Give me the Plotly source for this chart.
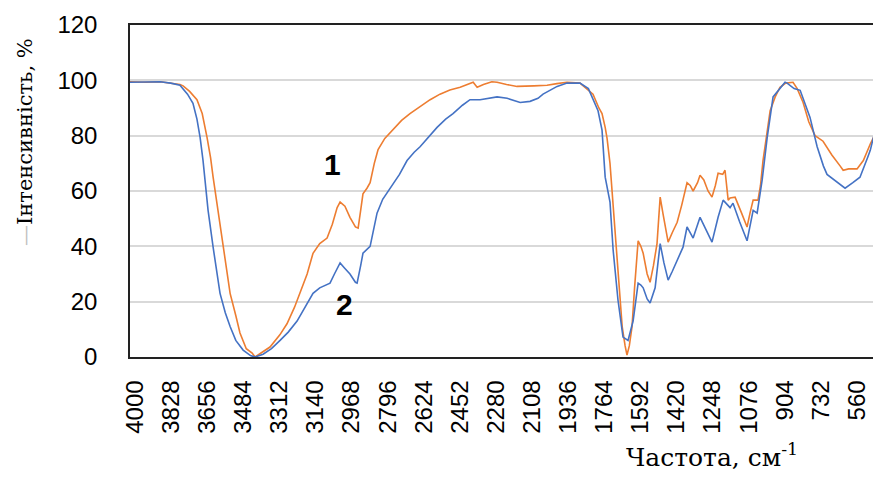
import plotly.graph_objects as go

# Series 1 (orange)
wn1 = [4024, 3950, 3880, 3830, 3786, 3771, 3740, 3705, 3680, 3657, 3640, 3628, 3610, 3595, 3570,
       3547, 3520, 3500, 3470, 3442, 3428, 3400, 3357, 3310, 3276, 3240, 3214, 3180, 3152, 3120,
       3085, 3060, 3037, 3023, 3000, 2976, 2950, 2937, 2925, 2914, 2895, 2880, 2860, 2842, 2810,
       2771, 2730, 2690, 2640, 2594, 2547, 2500, 2451, 2404, 2389, 2370, 2340, 2300, 2275, 2230,
       2180, 2100, 2037, 1990, 1942, 1880, 1818, 1790, 1775, 1760, 1751, 1737, 1727, 1710, 1703,
       1690, 1679, 1665, 1656, 1645, 1632, 1620, 1603, 1590, 1579, 1560, 1546, 1530, 1513, 1505,
       1498, 1485, 1460, 1440, 1417, 1395, 1370, 1355, 1341, 1320, 1308, 1290, 1270, 1251, 1235,
       1222, 1200, 1189, 1174, 1165, 1141, 1110, 1084, 1070, 1055, 1032, 1020, 1008, 990, 974,
       950, 927, 900, 865, 845, 817, 790, 760, 722, 680, 640, 626, 600, 560, 530, 497, 470, 446]
val1 = [99.5, 99.3, 99.5, 99, 98.5, 98, 96, 93, 88, 79.4, 72, 65, 56, 47, 35,
        23, 15, 8.7, 3, 1.4, 0, 1.5, 3.6, 8, 12, 18, 23, 30, 37.5, 41,
        43, 48, 54, 56, 54.5, 50.5, 47, 46.6, 53, 59, 61, 63, 70, 75, 79,
        82, 85.5, 88, 90.5, 93, 95, 96.5, 97.5, 99, 99.3, 97.5, 98.5, 99.5, 99.3, 98.5,
        97.8, 98, 98.2, 98.8, 99.3, 99, 95, 90, 88, 83, 79, 70, 60, 45, 35,
        22, 11, 4, 0.7, 4, 11, 25, 42, 40, 37.5, 30, 27, 33, 41, 50,
        57.8, 52, 41.5, 45, 48.7, 55, 63, 62, 60, 63, 65.7, 64, 60, 57.8, 62,
        66.4, 66, 67.5, 56.7, 57.5, 57.8, 52, 47, 52, 56.7, 56.7, 62, 71, 80, 89,
        94, 97.5, 99, 99.3, 97, 92, 85, 80, 78, 73, 69, 67.5, 68, 68, 71, 77, 81, 86]

# Series 2 (blue)
wn2 = [4024, 3950, 3880, 3830, 3800, 3786, 3750, 3724, 3705, 3690, 3676, 3665, 3652, 3628, 3610,
       3595, 3570, 3547, 3520, 3485, 3450, 3428, 3390, 3350, 3309, 3270, 3228, 3190, 3152, 3120,
       3104, 3071, 3050, 3023, 3000, 2976, 2950, 2942, 2925, 2914, 2880, 2865, 2847, 2820, 2785,
       2740, 2704, 2670, 2642, 2594, 2561, 2520, 2485, 2440, 2404, 2356, 2320, 2275, 2227, 2165,
       2118, 2080, 2056, 2020, 1989, 1942, 1880, 1840, 1832, 1810, 1794, 1775, 1770, 1760, 1737,
       1722, 1699, 1675, 1651, 1627, 1603, 1590, 1579, 1560, 1546, 1522, 1510, 1498, 1480, 1460,
       1440, 1417, 1389, 1370, 1341, 1308, 1280, 1251, 1222, 1198, 1165, 1151, 1120, 1084, 1055,
       1036, 1012, 988, 960, 930, 903, 893, 860, 831, 800, 784, 750, 720, 703, 660,
       617, 580, 546, 510, 497, 470, 446]
val2 = [99.3, 99.3, 99.5, 99, 98.5, 98.2, 95, 91.7, 86, 79.4, 71, 62, 53, 39.7, 30,
        23, 16, 11, 6, 2.5, 0.5, 0, 1, 3, 6, 9, 13, 18, 23, 25,
        25.5, 26.7, 30, 34, 32, 30, 27, 26.7, 33, 37.5, 40, 46, 52, 57, 61,
        66, 71, 74, 76, 80, 83, 86, 88, 91, 93, 93, 93.5, 94, 93.5, 92,
        92.4, 93.5, 95, 96.5, 97.8, 99, 99, 97, 95.6, 92, 89, 82, 76, 65, 56,
        38.6, 20.6, 7.2, 6, 13, 26.7, 26, 25, 21, 19.5, 25, 33, 41, 34, 27.8,
        31, 35, 39.7, 47, 43, 50.5, 46, 41.5, 50.5, 56.7, 54, 55.6, 49, 42, 53,
        52, 64, 79.4, 94, 97, 99.3, 99, 97, 96.4, 90, 86.6, 76, 69, 66, 63.5,
        61, 63, 65, 72, 74.7, 83, 90]

x_ticks = [4000, 3828, 3656, 3484, 3312, 3140, 2968, 2796, 2624, 2452, 2280, 2108,
           1936, 1764, 1592, 1420, 1248, 1076, 904, 732, 560]
y_ticks = [0, 20, 40, 60, 80, 100, 120]

# page has an 8px body margin; figure is sized so the page does not overflow
W, H = 865, 463
L, T, B = 122, 17, 114
PW, PH = W - L, H - T - B
X_LEFT = 4024
X_RIGHT = X_LEFT - PW * (3440 / 722)

fig = go.Figure()
fig.add_trace(go.Scatter(x=wn1, y=val1, mode="lines", line=dict(color="#ED7D31", width=1.6),
                         showlegend=False))
fig.add_trace(go.Scatter(x=wn2, y=val2, mode="lines", line=dict(color="#4472C4", width=1.6),
                         showlegend=False))

fig.update_layout(
    width=W, height=H,
    margin=dict(l=L, r=0, t=T, b=B, autoexpand=False),
    paper_bgcolor="white", plot_bgcolor="white",
    font=dict(family="Liberation Sans, Arial, sans-serif", color="#000000"),
    xaxis=dict(range=[X_LEFT, X_RIGHT], tickvals=x_ticks, ticktext=[str(v) for v in x_ticks],
               tickangle=-90, tickfont=dict(size=24, color="#000000"),
               showgrid=False, zeroline=False, showline=True, linecolor="#222222",
               linewidth=1.5, mirror=True, ticks="", ticklabelstandoff=12, automargin=False),
    yaxis=dict(range=[0, 120], tickvals=y_ticks, tickfont=dict(size=24, color="#000000"),
               showgrid=True, gridcolor="#D9D9D9", gridwidth=1.5, zeroline=False,
               showline=True, linecolor="#222222", linewidth=1.5, ticks="",
               ticklabelstandoff=26, automargin=False),
)

fig.add_annotation(x=3061, y=69.5, xref="x", yref="y", text="<b>1</b>", showarrow=False,
                   font=dict(size=30, family="Liberation Sans, Arial", color="#000000"))
fig.add_annotation(x=3000, y=19, xref="x", yref="y", text="<b>2</b>", showarrow=False,
                   font=dict(size=30, family="Liberation Sans, Arial", color="#000000"))
# axis titles (target centres on screen: x-title (712, 455), y-title (25, 142))
fig.add_annotation(x=(712 - 8 - L) / PW, y=-((455 - 8) - (H - B)) / PH, xref="paper", yref="paper",
                   xanchor="center", yanchor="middle",
                   text="Частота, см<sup>-1</sup>", showarrow=False,
                   font=dict(size=25, family="DejaVu Serif, Liberation Serif, serif", color="#000000"))
fig.add_annotation(x=(25 - 8 - L) / PW, y=((H - B) - (142 - 8)) / PH, xref="paper", yref="paper",
                   xanchor="center", yanchor="middle",
                   text='<span style="color:#BFBFBF">—</span>Інтенсивність, %', textangle=-90,
                   showarrow=False,
                   font=dict(size=21, family="DejaVu Serif, Liberation Serif, serif", color="#000000"))

fig.write_html("out.html")
